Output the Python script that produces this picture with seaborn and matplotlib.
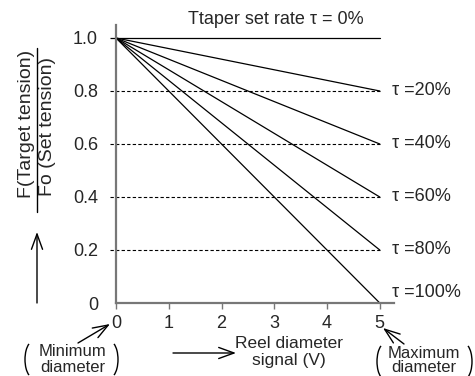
import matplotlib.pyplot as plt
from matplotlib.patches import Arc
from matplotlib.transforms import IdentityTransform
import seaborn as sns
import pandas as pd
import numpy as np

# data
taper_rates = [0, 20, 40, 60, 80, 100]          # %
signal_min, signal_max = 0, 5                    # V
f_at_min = [1.0, 1.0, 1.0, 1.0, 1.0, 1.0]
f_at_max = [1.0, 0.8, 0.6, 0.4, 0.2, 0.0]
grid_levels = [0.2, 0.4, 0.6, 0.8]
x_ticks = [0, 1, 2, 3, 4, 5]
y_ticks = [0, 0.2, 0.4, 0.6, 0.8, 1.0]
y_ticklabels = ['0', '0.2', '0.4', '0.6', '0.8', '1.0']
label_y = [0.8, 0.6, 0.4, 0.2, 0.04]

rows = []
for t, a, b in zip(taper_rates, f_at_min, f_at_max):
    rows.append({'signal': signal_min, 'F': a, 'tau': t})
    rows.append({'signal': signal_max, 'F': b, 'tau': t})
df = pd.DataFrame(rows)

sns.set_style('white')
plt.rcParams['font.family'] = ['Liberation Sans', 'DejaVu Sans']

W, H = 475, 376
fig = plt.figure(figsize=(W / 100, H / 100), dpi=100)
ax = fig.add_axes([116 / W, 73 / H, 278 / W, 278 / H])


def fp(x, y):
    # pixel position (from top-left) -> figure fraction
    return (x / W, 1 - y / H)


sns.lineplot(data=df, x='signal', y='F', hue='tau', palette=['black'] * len(taper_rates),
             legend=False, lw=0.9, ax=ax)

ax.hlines(grid_levels, -0.12, signal_max, colors='black', linestyles=(0, (3, 2)),
          lw=0.8, clip_on=False)
ax.hlines([1.0], -0.12, 0, colors='black', lw=0.9, clip_on=False)

ax.set_xlim(0, 5.27)
ax.set_ylim(0, 1.049)
ax.set_xticks(x_ticks)
ax.set_yticks(y_ticks)
ax.set_yticklabels(y_ticklabels)
ax.tick_params(axis='x', length=4, width=1, color='#777777', direction='out', pad=5,
               labelsize=13, bottom=True)
ax.tick_params(axis='y', length=0, pad=13, labelsize=13)
ax.set_xlabel('')
ax.set_ylabel('')
for s in ['top', 'right']:
    ax.spines[s].set_visible(False)
for s in ['left', 'bottom']:
    ax.spines[s].set_color('#777777')
    ax.spines[s].set_linewidth(1.6)

# taper labels
ax.text(3.03, 1.068, 'Ttaper set rate τ = 0%', ha='center', va='center', fontsize=13,
        clip_on=False)
for t, yy in zip(taper_rates[1:], label_y):
    ax.text(5.23, yy, f'τ ={t}%', ha='left', va='center', fontsize=13, clip_on=False)

# y label as a fraction
fig.text(*fp(27, 124), 'F(Target tension)', rotation=90, ha='center', va='center', fontsize=14)
fig.text(*fp(47, 126), 'Fo (Set tension)', rotation=90, ha='center', va='center', fontsize=14)
fig.add_artist(plt.Line2D([36.5 / W, 36.5 / W], [1 - 48 / H, 1 - 212 / H],
                          transform=fig.transFigure, color='black', lw=1))

arrow = dict(arrowstyle='->,head_length=1.1,head_width=0.4', color='black', lw=1,
             shrinkA=0, shrinkB=0, mutation_scale=10)
ax.annotate('', xy=fp(37, 232), xytext=fp(37, 303), xycoords='figure fraction', arrowprops=arrow)
ax.annotate('', xy=fp(236, 353), xytext=fp(173, 353), xycoords='figure fraction', arrowprops=arrow)
ax.annotate('', xy=fp(110, 324), xytext=fp(78, 343), xycoords='figure fraction', arrowprops=arrow)
ax.annotate('', xy=fp(383, 328), xytext=fp(404, 344), xycoords='figure fraction', arrowprops=arrow)

# bottom notes
fig.text(*fp(289, 343), 'Reel diameter', ha='center', va='center', fontsize=12.5)
fig.text(*fp(289, 360), 'signal (V)', ha='center', va='center', fontsize=12.5)
fig.text(*fp(73, 351), 'Minimum', ha='center', va='center', fontsize=12)
fig.text(*fp(73, 367), 'diameter', ha='center', va='center', fontsize=12)
fig.text(*fp(424, 353), 'Maximum', ha='center', va='center', fontsize=12)
fig.text(*fp(424, 368), 'diameter', ha='center', va='center', fontsize=12)


def paren(cx, cy, left, w=16, h=36, t=60):
    # Arc stretches its angles by width/height, so undo that for a clean parametric span
    th = np.degrees(np.arctan(h / w * np.tan(np.radians(t))))
    t1, t2 = (180 - th, 180 + th) if left else (-th, th)
    fig.add_artist(Arc((cx, H - cy), w, h, theta1=t1, theta2=t2,
                       transform=IdentityTransform(), color='black', lw=1))


paren(33, 359.5, True)
paren(110, 359.5, False)
paren(385, 361.5, True)
paren(464, 361.5, False)

fig.savefig('out.png', dpi=100)
